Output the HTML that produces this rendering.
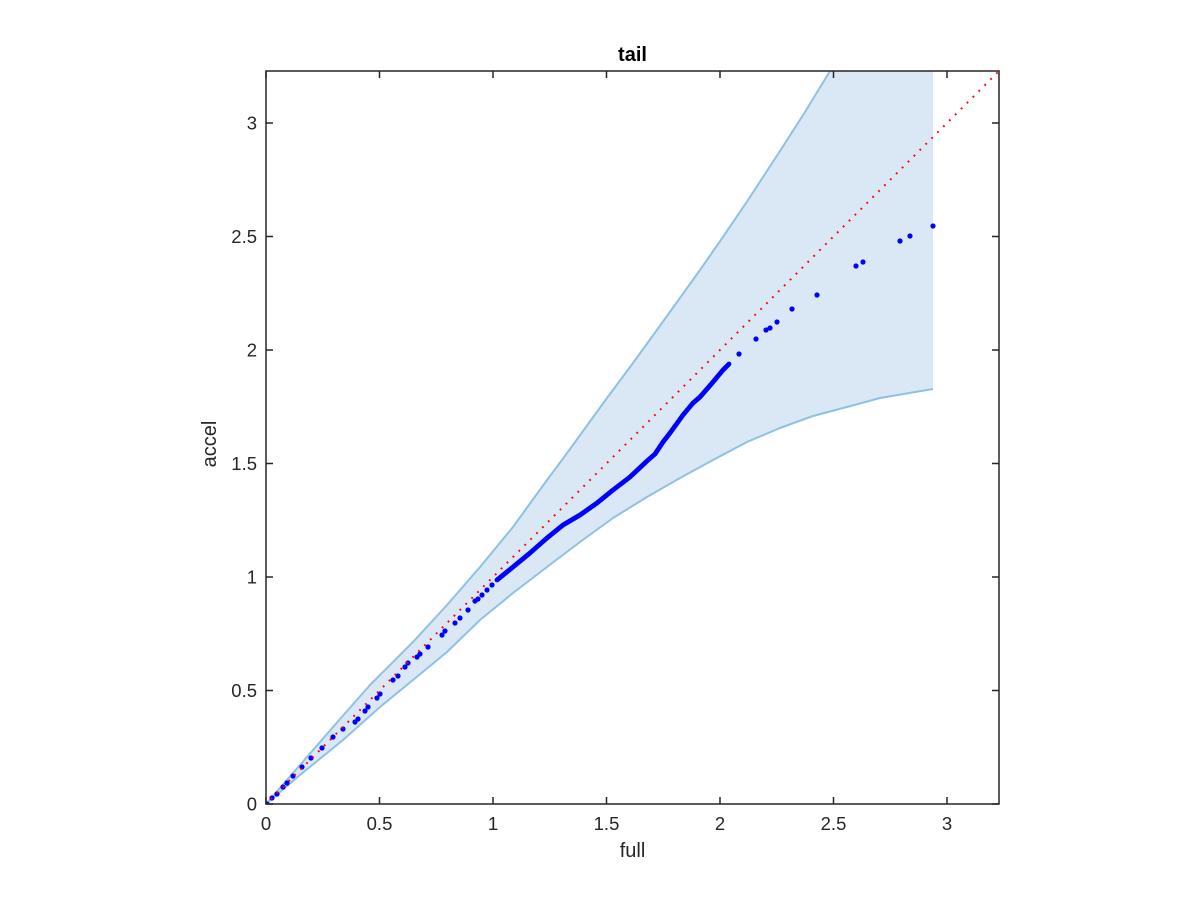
<!DOCTYPE html>
<html>
<head>
<meta charset="utf-8">
<style>
  html,body{margin:0;padding:0;background:#fff;}
  svg{display:block;}
  text{font-family:"Liberation Sans",Arial,sans-serif;fill:#262626;}
</style>
</head>
<body>
<svg width="1200" height="900" viewBox="0 0 1200 900" xmlns="http://www.w3.org/2000/svg">
  <rect x="0" y="0" width="1200" height="900" fill="#ffffff"/>
  <defs>
    <clipPath id="ax"><rect x="266" y="71" width="733" height="733"/></clipPath>
  </defs>

  <g clip-path="url(#ax)">
    <polygon fill="#d9e8f4" stroke="none"
      points="266,804 300,765 340,719 370,685 380,675 413,642 447,605 480,567 513,527 547,480 562,460 607,398 633,363 667,316 700,270 725,234 750,197 780,151 805,112 830,71 933,71 933,389 880,398 847,407 813,416 780,428 747,442 713,460 680,478 647,497 613,518 580,542 547,567 513,593 480,620 447,652 413,680 380,707 343,740 300,775 266,804"/>
    <polyline fill="none" stroke="#8fc1e3" stroke-width="2" stroke-linejoin="round"
      points="266,804 300,765 340,719 370,685 380,675 413,642 447,605 480,567 513,527 547,480 562,460 607,398 633,363 667,316 700,270 725,234 750,197 780,151 805,112 830,71 845,48"/>
    <polyline fill="none" stroke="#8fc1e3" stroke-width="2" stroke-linejoin="round"
      points="266,804 300,775 343,740 380,707 413,680 447,652 480,620 513,593 547,567 580,542 613,518 647,497 680,478 713,460 747,442 780,428 813,416 847,407 880,398 933,389"/>

    <g fill="#0000ff">
      <circle cx="267" cy="804" r="2.6"/><circle cx="272" cy="798" r="2.6"/>
      <circle cx="277" cy="794" r="2.6"/><circle cx="283" cy="787" r="2.6"/>
      <circle cx="287" cy="783" r="2.6"/><circle cx="293" cy="776" r="2.6"/>
      <circle cx="302" cy="767" r="2.6"/><circle cx="311" cy="758" r="2.6"/>
      <circle cx="322" cy="748" r="2.6"/><circle cx="333" cy="737" r="2.6"/>
      <circle cx="343" cy="729" r="2.6"/><circle cx="355" cy="722" r="2.6"/>
      <circle cx="358" cy="719" r="2.6"/><circle cx="365" cy="711" r="2.6"/>
      <circle cx="368" cy="707" r="2.6"/><circle cx="377" cy="698" r="2.6"/>
      <circle cx="380" cy="694" r="2.6"/><circle cx="393" cy="680" r="2.6"/>
      <circle cx="398" cy="676" r="2.6"/><circle cx="405" cy="667" r="2.6"/>
      <circle cx="408" cy="663" r="2.6"/><circle cx="417" cy="657" r="2.6"/>
      <circle cx="420" cy="654" r="2.6"/><circle cx="428" cy="647" r="2.6"/>
      <circle cx="442" cy="635" r="2.6"/><circle cx="445" cy="631" r="2.6"/>
      <circle cx="455" cy="623" r="2.6"/><circle cx="460" cy="618" r="2.6"/>
      <circle cx="468" cy="610" r="2.6"/><circle cx="475" cy="601" r="2.6"/>
      <circle cx="478" cy="599" r="2.6"/><circle cx="482" cy="595" r="2.6"/>
      <circle cx="487" cy="590" r="2.6"/><circle cx="492" cy="585" r="2.6"/>
      <circle cx="739" cy="354" r="2.6"/><circle cx="756" cy="339" r="2.6"/>
      <circle cx="766" cy="330" r="2.6"/><circle cx="770" cy="328" r="2.6"/>
      <circle cx="777" cy="322" r="2.6"/><circle cx="792" cy="309" r="2.6"/>
      <circle cx="817" cy="295" r="2.6"/><circle cx="856" cy="266" r="2.6"/>
      <circle cx="863" cy="262" r="2.6"/><circle cx="900" cy="241" r="2.6"/>
      <circle cx="910" cy="236" r="2.6"/><circle cx="933" cy="226" r="2.6"/>
    </g>
    <polyline fill="none" stroke="#0000ff" stroke-width="4.8" stroke-linejoin="round" stroke-linecap="round"
      points="497,580 513,567 530,553 547,538 563,525 580,515 597,503 613,490 630,477 647,461 655,454 663,442 670,433 683,415 693,403 700,397 713,382 723,370 729,364"/>

    <line x1="999" y1="71" x2="266" y2="804" stroke="#ff0000" stroke-width="2"
      stroke-dasharray="1.8 6.54" stroke-dashoffset="-2"/>
  </g>

  <g stroke="#262626" stroke-width="1.5" fill="none">
    <rect x="266" y="71" width="733" height="733"/>
    <path d="M266,804v-7 M379.5,804v-7 M493,804v-7 M606.5,804v-7 M720,804v-7 M833.5,804v-7 M947,804v-7
             M266,71v7 M379.5,71v7 M493,71v7 M606.5,71v7 M720,71v7 M833.5,71v7 M947,71v7"/>
    <path d="M266,804h7 M266,690.5h7 M266,577h7 M266,463.5h7 M266,350h7 M266,236.5h7 M266,123h7
             M999,804h-7 M999,690.5h-7 M999,577h-7 M999,463.5h-7 M999,350h-7 M999,236.5h-7 M999,123h-7"/>
  </g>

  <g font-size="18.5" text-anchor="middle">
    <text x="266" y="830">0</text>
    <text x="379.5" y="830">0.5</text>
    <text x="493" y="830">1</text>
    <text x="606.5" y="830">1.5</text>
    <text x="720" y="830">2</text>
    <text x="833.5" y="830">2.5</text>
    <text x="947" y="830">3</text>
  </g>
  <g font-size="18.5" text-anchor="end">
    <text x="257" y="810.5">0</text>
    <text x="257" y="697">0.5</text>
    <text x="257" y="583.5">1</text>
    <text x="257" y="470">1.5</text>
    <text x="257" y="356.5">2</text>
    <text x="257" y="243">2.5</text>
    <text x="257" y="129.5">3</text>
  </g>

  <text x="632.5" y="857" font-size="20" text-anchor="middle">full</text>
  <text x="0" y="0" font-size="20" text-anchor="middle" transform="translate(216,444) rotate(-90)">accel</text>

  <text x="632.5" y="61" font-size="20" font-weight="bold" text-anchor="middle" style="fill:#000">tail</text>
</svg>
</body>
</html>
